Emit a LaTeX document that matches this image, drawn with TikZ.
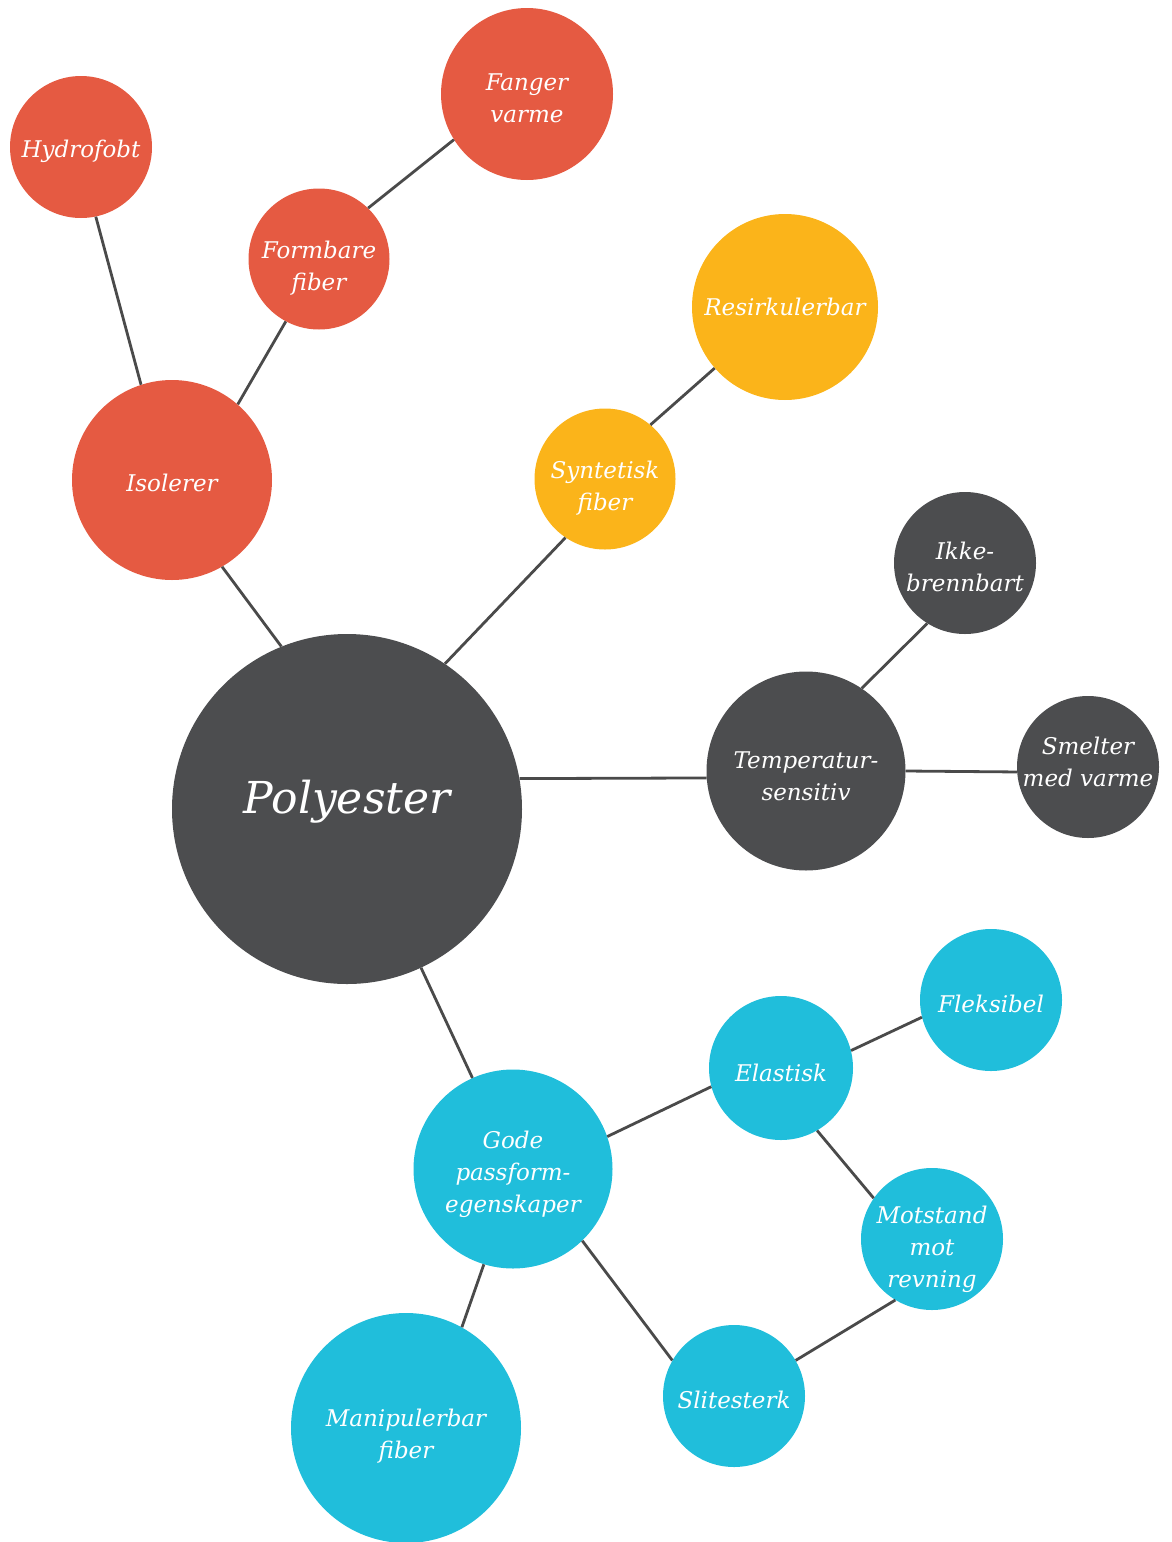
\documentclass[tikz,border=0pt]{standalone}
\usepackage{fontspec}
\setmainfont{DejaVu Serif}
\definecolor{bubblered}{HTML}{E55A42}
\definecolor{bubbleyellow}{HTML}{FBB41A}
\definecolor{bubblegray}{HTML}{4C4D4F}
\definecolor{bubblecyan}{HTML}{20BEDB}
\definecolor{linkgray}{HTML}{4A4A4A}
\begin{document}
\begin{tikzpicture}[x=1pt,y=-1pt,
  lbltext/.style={inner sep=0pt,align=center,text=white,
    font=\fontsize{23}{32}\selectfont\itshape},
  % caption of a bubble, lowered by #1
  lab/.style 2 args={label={[lbltext,yshift=-#1]center:#2}},
  bubble/.style={circle,inner sep=0pt},
  red/.style={bubble,fill=bubblered},
  yel/.style={bubble,fill=bubbleyellow},
  gry/.style={bubble,fill=bubblegray},
  cya/.style={bubble,fill=bubblecyan},
  link/.style={draw=linkgray,line width=2.8pt}]
\useasboundingbox (0,0) rectangle (1172,1542);

% red branch
\node[red,minimum size=142pt,lab={4pt}{Hydrofobt}] (hydro) at (81,147) {};
\node[red,minimum size=172pt,lab={4pt}{Fanger\\varme}] (fanger) at (527,94) {};
\node[red,minimum size=141pt,lab={9pt}{Formbare\\fiber}] (form) at (319,259) {};
\node[red,minimum size=200pt,lab={3pt}{Isolerer}] (iso) at (172,480) {};

% yellow branch
\node[yel,minimum size=186pt,lab={0pt}{Resirkulerbar}] (resirk) at (785,307) {};
\node[yel,minimum size=141pt,lab={9pt}{Syntetisk\\fiber}] (synt) at (605,479) {};

% centre
\node[gry,minimum size=350pt,
  label={[lbltext,font=\fontsize{44}{52}\selectfont\itshape,yshift=7pt]center:Polyester}] (poly) at (347,809) {};

% grey branch
\node[gry,minimum size=142pt,lab={4pt}{Ikke-\\brennbart}] (ikke) at (965,563) {};
\node[gry,minimum size=199pt,lab={5pt}{Temperatur-\\sensitiv}] (temp) at (806,771) {};
\node[gry,minimum size=142pt,lab={-5pt}{Smelter\\med varme}] (smelt) at (1088,767) {};

% cyan branch
\node[cya,minimum size=142pt,lab={4pt}{Fleksibel}] (fleks) at (991,1000) {};
\node[cya,minimum size=144pt,lab={5pt}{Elastisk}] (elast) at (781,1068) {};
\node[cya,minimum size=199pt,lab={5pt}{Gode\\passform-\\egenskaper}] (gode) at (513,1169) {};
\node[cya,minimum size=142pt,lab={10pt}{Motstand\\mot\\revning}] (motst) at (932,1239) {};
\node[cya,minimum size=142pt,lab={4pt}{Slitesterk}] (slite) at (734,1396) {};
\node[cya,minimum size=230pt,lab={8pt}{Manipulerbar\\fiber}] (manip) at (406,1428) {};

% connectors, border to border
\draw[link] (iso.108) -- (hydro.-78);
\draw[link] (iso.49) -- (form.-118);
\draw[link] (form.46) -- (fanger.212);
\draw[link] (poly.112) -- (iso.-60);
\draw[link] (poly.56) -- (synt.236);
\draw[link] (synt.50) -- (resirk.221);
\draw[link] (poly.10) -- (temp.184.5);
\draw[link] (temp.56) -- (ikke.238);
\draw[link] (temp.0.6) -- (smelt.184);
\draw[link] (poly.-65.5) -- (gode.114);
\draw[link] (gode.19) -- (elast.195.5);
\draw[link] (elast.14.5) -- (fleks.194.5);
\draw[link] (elast.-60.5) -- (motst.145);
\draw[link] (motst.239) -- (slite.30);
\draw[link] (gode.-46) -- (slite.150.5);
\draw[link] (gode.253.5) -- (manip.61.5);
\end{tikzpicture}
\end{document}
